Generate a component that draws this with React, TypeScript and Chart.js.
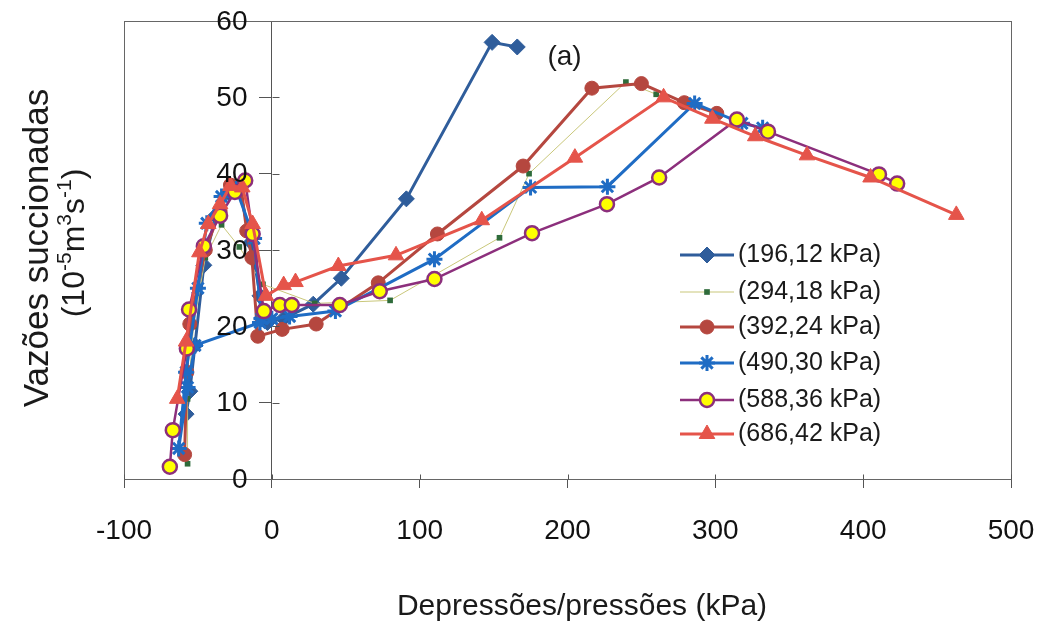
import React, { useEffect, useRef } from "react";
import { Chart, registerables } from "chart.js";
import { drawPoint } from "chart.js/helpers";

Chart.register(...registerables);

const FONT = "'Liberation Sans', Arial, Helvetica, sans-serif";

// ---- data ----
const seriesLabels = [
  "(196,12 kPa)",
  "(294,18 kPa)",
  "(392,24 kPa)",
  "(490,30 kPa)",
  "(588,36 kPa)",
  "(686,42 kPa)",
];

const s1x = [-58, -55.5, -52, -46, -38, -29, -22, -14, -8, -3, 8, 28, 47, 91, 149, 166];
const s1y = [8.5, 11.5, 17.5, 28, 34.5, 37.5, 38, 31, 24, 20.5, 21, 22.9, 26.3, 36.7, 57.2, 56.6];

const s2x = [-57, -57, -53, -45, -34, -22, -6, 29, 80, 154, 174, 239.5, 260];
const s2y = [2, 10.5, 20, 29, 33.3, 30.4, 25.5, 23, 23.4, 31.6, 40, 52, 50.4];

const s3x = [-59, -57.5, -55.5, -45, -35, -28, -21, -17, -13.5, -9.5, 7, 30, 72, 112, 170, 216.5, 250, 279, 301];
const s3y = [3.2, 14, 20.3, 30, 35.1, 38.5, 38.5, 32.5, 29, 18.7, 19.6, 20.3, 25.7, 32.1, 41, 51.2, 51.8, 49.3, 47.9];

const s4x = [-8, -52, -57, -63, -58, -50, -44, -34, -24, -12, -7, 0, 12, 43, 110, 175, 227, 286, 318, 332];
const s4y = [20.5, 17.5, 12, 4, 14, 25, 33.5, 37, 38, 31.5, 21, 21, 21.3, 22, 28.8, 38.2, 38.3, 49.2, 46.6, 46];

const s5x = [-69, -67, -57.5, -56, -46, -35, -25, -18, -13, -5.4, 5.4, 13.5, 46, 73, 110, 176, 226.7, 262, 314.6, 335.6, 410.7, 423];
const s5y = [1.6, 6.4, 17.1, 22.2, 30.5, 34.5, 37.6, 39.1, 32.1, 22, 22.8, 22.8, 22.8, 24.6, 26.2, 32.2, 36, 39.5, 47.1, 45.5, 39.9, 38.7];

const s6x = [-64, -58, -49, -43, -35, -28, -20, -13, -4, 8, 16, 45, 84, 142, 205, 265, 298, 327, 362, 405, 463];
const s6y = [10.5, 18, 29.7, 33.4, 36, 38.4, 38.2, 33.4, 24, 25.4, 25.8, 27.9, 29.3, 33.9, 42.1, 50, 47.2, 44.9, 42.4, 39.5, 34.6];

const xMin = -100;
const xMax = 500;
const xStep = 100;
const yMin = 0;
const yMax = 60;
const yStep = 10;

const xTitle = "Depressões/pressões (kPa)";
const yTitle1 = "Vazões succionadas";
const panelLabel = "(a)";

const pts = (xs: number[], ys: number[]) => xs.map((x, i) => ({ x, y: ys[i] }));

const styles = [
  { color: "#2f5d9b", fill: "#2f5d9b", style: "rectRot", radius: 8, lw: 3, bw: 1 },
  { color: "#c9c77a", fill: "#2e6b3a", style: "rect", radius: 4, lw: 1, bw: 0, pointBorder: "#2e6b3a" },
  { color: "#b5473f", fill: "#b5473f", style: "circle", radius: 7, lw: 3, bw: 1 },
  { color: "#1f6cc4", fill: "#1f6cc4", style: "star", radius: 8, lw: 3, bw: 3 },
  { color: "#8c2f7c", fill: "#ffff00", style: "circle", radius: 7, lw: 2.5, bw: 2.5 },
  { color: "#e5544a", fill: "#e5544a", style: "triangle", radius: 9, lw: 3, bw: 1 },
];

const decorPlugin = {
  id: "decor",
  beforeDatasetsDraw(chart: any) {
    const { ctx, chartArea: a } = chart;
    ctx.save();
    ctx.strokeStyle = "#666";
    ctx.lineWidth = 1;
    ctx.strokeRect(a.left + 0.5, a.top + 0.5, a.right - a.left, a.bottom - a.top);
    ctx.restore();
  },
  afterDraw(chart: any) {
    const ctx = chart.ctx as CanvasRenderingContext2D;
    const xs = chart.scales.x;
    const ys = chart.scales.y;
    const zeroX = Math.round(xs.getPixelForValue(0)) + 0.5;
    const baseY = Math.round(ys.getPixelForValue(0)) + 0.5;
    ctx.save();

    // tick extensions crossing the axes + y tick labels
    ctx.strokeStyle = "#555";
    ctx.lineWidth = 1;
    ctx.beginPath();
    ys.ticks.forEach((t: any) => {
      const py = Math.round(ys.getPixelForValue(t.value)) + 0.5;
      if (t.value > yMin && t.value < yMax) {
        ctx.moveTo(zeroX, py);
        ctx.lineTo(zeroX + 7, py);
      }
    });
    xs.ticks.forEach((t: any) => {
      const px = Math.round(xs.getPixelForValue(t.value)) + 0.5;
      ctx.moveTo(px, baseY);
      ctx.lineTo(px, baseY - 5);
    });
    ctx.stroke();

    ctx.fillStyle = "#111";
    ctx.textBaseline = "middle";
    ctx.textAlign = "right";
    ctx.font = `28px ${FONT}`;
    ys.ticks.forEach((t: any) => {
      ctx.fillText(String(t.value), zeroX - 25, ys.getPixelForValue(t.value) + 1);
    });

    ctx.fillStyle = "#1a1a1a";
    // panel label
    ctx.font = `28px ${FONT}`;
    ctx.textAlign = "center";
    ctx.fillText(panelLabel, xs.getPixelForValue(198), ys.getPixelForValue(55.3));

    // x title
    ctx.font = `30px ${FONT}`;
    ctx.fillText(xTitle, 582, 607);

    // y title line 1
    ctx.save();
    ctx.translate(38, 248);
    ctx.rotate(-Math.PI / 2);
    ctx.font = `35px ${FONT}`;
    ctx.fillText(yTitle1, 0, 0);
    ctx.restore();

    // y title line 2 with superscripts
    const parts: [string, boolean][] = [
      ["(10", false],
      ["-5", true],
      ["m", false],
      ["3", true],
      ["s", false],
      ["-1", true],
      [")", false],
    ];
    const big = `32px ${FONT}`;
    const small = `21px ${FONT}`;
    let total = 0;
    for (const [t, sup] of parts) {
      ctx.font = sup ? small : big;
      total += ctx.measureText(t).width;
    }
    ctx.save();
    ctx.translate(75, 243);
    ctx.rotate(-Math.PI / 2);
    ctx.textAlign = "left";
    let cx = -total / 2;
    for (const [t, sup] of parts) {
      ctx.font = sup ? small : big;
      ctx.fillText(t, cx, sup ? -10 : 0);
      cx += ctx.measureText(t).width;
    }
    ctx.restore();

    // legend
    const rowY = [255, 292, 327, 363, 400, 434];
    chart.data.datasets.forEach((ds: any, i: number) => {
      const st = styles[i];
      const y = rowY[i];
      ctx.save();
      ctx.strokeStyle = st.color;
      ctx.lineWidth = st.lw;
      ctx.beginPath();
      ctx.moveTo(680, y);
      ctx.lineTo(734, y);
      ctx.stroke();
      ctx.fillStyle = st.fill;
      ctx.strokeStyle = (st as any).pointBorder || st.color;
      ctx.lineWidth = st.bw;
      drawPoint(ctx, { pointStyle: st.style as any, radius: st.radius, rotation: 0, borderWidth: st.bw }, 707, y);
      ctx.restore();
      ctx.font = `25px ${FONT}`;
      ctx.textAlign = "left";
      ctx.fillStyle = "#1a1a1a";
      ctx.fillText(ds.label, 738, y);
    });
    ctx.restore();
  },
};

export default function App() {
  const ref = useRef<HTMLCanvasElement | null>(null);
  useEffect(() => {
    if (!ref.current) return;
    const series = [
      pts(s1x, s1y),
      pts(s2x, s2y),
      pts(s3x, s3y),
      pts(s4x, s4y),
      pts(s5x, s5y),
      pts(s6x, s6y),
    ];
    const chart = new Chart(ref.current, {
      type: "scatter",
      data: {
        datasets: series.map((d, i) => {
          const st = styles[i];
          return {
            label: seriesLabels[i],
            data: d,
            showLine: true,
            borderColor: st.color,
            borderWidth: st.lw,
            pointStyle: st.style as any,
            pointRadius: st.radius,
            pointBackgroundColor: st.fill,
            pointBorderColor: (st as any).pointBorder || st.color,
            pointBorderWidth: st.bw,
            order: 6 - i,
          };
        }),
      },
      plugins: [decorPlugin],
      options: {
        responsive: false,
        animation: false,
        layout: { padding: { left: 124, right: 29, top: 21, bottom: 0 } },
        plugins: { legend: { display: false }, tooltip: { enabled: false } },
        scales: {
          x: {
            type: "linear",
            position: "bottom",
            min: xMin,
            max: xMax,
            ticks: { stepSize: xStep, color: "#111", font: { size: 28, family: FONT }, padding: 26 },
            grid: { drawOnChartArea: false, drawTicks: true, tickLength: 9, color: "#555" },
            border: { color: "#555", width: 1 },
            afterFit(scale: any) {
              scale.height = 148;
              scale.paddingLeft = 0;
              scale.paddingRight = 0;
            },
          },
          y: {
            type: "linear",
            position: { x: 0 } as any,
            min: yMin,
            max: yMax,
            ticks: { stepSize: yStep, display: false },
            grid: { drawOnChartArea: false, drawTicks: true, tickLength: 12, color: "#555" },
            border: { color: "#555", width: 1 },
            afterFit(scale: any) {
              scale.width = 0;
              scale.paddingTop = 0;
              scale.paddingBottom = 0;
            },
          },
        },
      },
    });
    return () => chart.destroy();
  }, []);
  return (
    <div style={{ position: "fixed", left: 0, top: 0, width: 1040, height: 627, background: "#fff" }}>
      <canvas ref={ref} width={1040} height={627} style={{ width: 1040, height: 627 }} />
    </div>
  );
}
